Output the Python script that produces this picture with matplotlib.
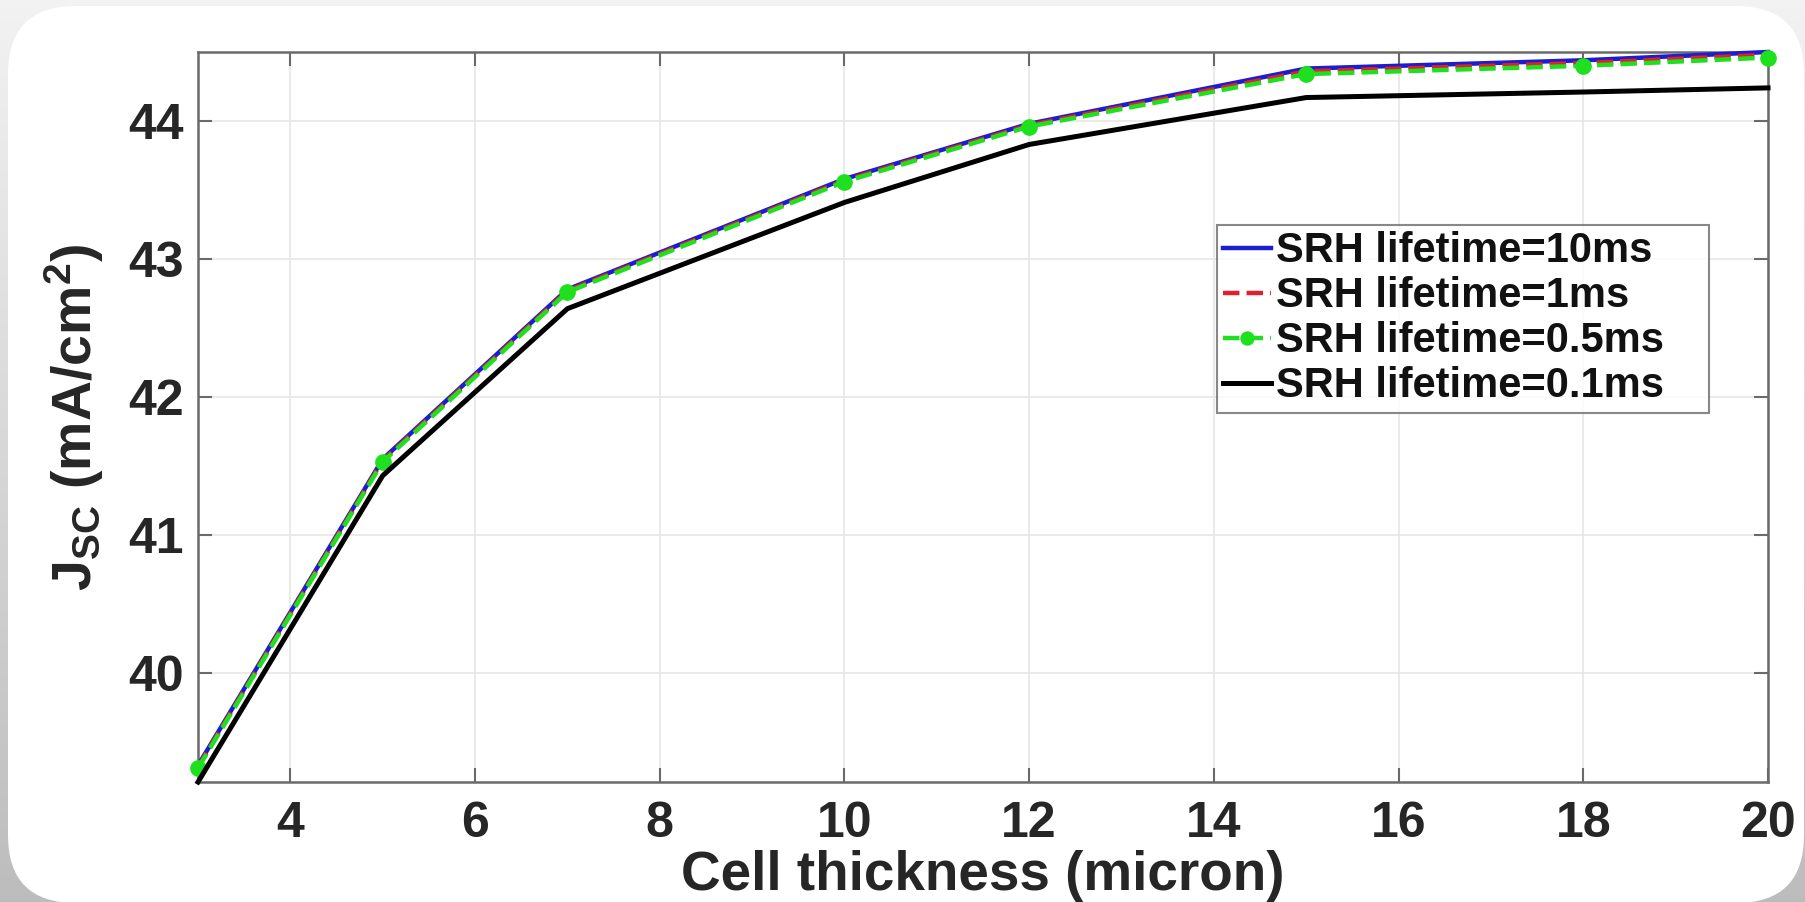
import matplotlib
matplotlib.use("Agg")
import matplotlib.pyplot as plt
import numpy as np
from matplotlib.patches import FancyBboxPatch

# ---- data ----
thickness = [3, 5, 7, 10, 12, 15, 18, 20]
jsc_10ms = [39.33, 41.55, 42.78, 43.58, 43.98, 44.38, 44.44, 44.50]
jsc_1ms = [39.32, 41.54, 42.77, 43.57, 43.97, 44.36, 44.42, 44.48]
jsc_05ms = [39.31, 41.53, 42.76, 43.56, 43.96, 44.34, 44.40, 44.46]
jsc_01ms = [39.21, 41.43, 42.64, 43.41, 43.83, 44.17, 44.21, 44.24]
labels = ["SRH lifetime=10ms", "SRH lifetime=1ms",
          "SRH lifetime=0.5ms", "SRH lifetime=0.1ms"]
xticks = [4, 6, 8, 10, 12, 14, 16, 18, 20]
yticks = [40, 41, 42, 43, 44]

plt.rcParams['font.family'] = ['Liberation Sans', 'DejaVu Sans']
plt.rcParams['font.weight'] = 'bold'
plt.rcParams['mathtext.fontset'] = 'custom'
plt.rcParams['mathtext.rm'] = 'Liberation Sans:bold'
plt.rcParams['mathtext.it'] = 'Liberation Sans:bold'
plt.rcParams['mathtext.bf'] = 'Liberation Sans:bold'

W, H = 1806, 902
fig = plt.figure(figsize=(W / 100, H / 100), dpi=100)

# background: grey gradient + rounded white panel
bg = fig.add_axes([0, 0, 1, 1], zorder=-10)
grad = np.linspace(0, 1, 256).reshape(-1, 1)
top_c = np.array([0.95, 0.95, 0.95])
bot_c = np.array([0.74, 0.74, 0.74])
img = top_c[None, None, :] * (1 - grad[:, :, None]) + bot_c[None, None, :] * grad[:, :, None]
bg.imshow(img, extent=[0, W, H, 0], aspect='auto')
bg.set_xlim(0, W)
bg.set_ylim(H, 0)
panel = FancyBboxPatch((8, 6), W - 8 - 2, H - 6 + 1,
                       boxstyle="round,pad=0,rounding_size=68",
                       facecolor='white', edgecolor='none')
bg.add_patch(panel)
bg.axis('off')

ax = fig.add_axes([198 / W, 1 - 782 / H, (1768 - 198) / W, (782 - 52) / H])
ax.set_facecolor('white')

lw = 3.2
ax.plot(thickness, jsc_10ms, color='#1c1cd0', lw=lw, ls='-', label=labels[0],
        clip_on=False, zorder=3)
ax.plot(thickness, jsc_1ms, color='#e0202a', lw=lw, ls='--', label=labels[1],
        clip_on=False, zorder=4)
ax.plot(thickness, jsc_05ms, color='#1ee01e', lw=lw, ls='--', marker='o',
        markersize=11, markerfacecolor='#1ee01e', markeredgecolor='#1ee01e',
        label=labels[2], clip_on=False, zorder=5)
ax.plot(thickness, jsc_01ms, color='black', lw=3.6, ls='-', label=labels[3],
        clip_on=False, zorder=6)

allv = jsc_10ms + jsc_1ms + jsc_05ms + jsc_01ms
ax.set_xlim(min(thickness), max(thickness))
ax.set_ylim(min(allv), max(allv))
ax.set_xticks(xticks)
ax.set_yticks(yticks)

ax.grid(True, color='#e6e6e6', lw=1.2)
ax.set_axisbelow(True)
for s in ax.spines.values():
    s.set_color('#6a6a6a')
    s.set_linewidth(1.8)
ax.tick_params(direction='in', length=10, width=1.5, color='#6a6a6a',
               top=True, right=True, labelsize=36, labelcolor='#262626')
ax.tick_params(axis='x', pad=14)
ax.tick_params(axis='y', pad=10)

ax.set_xlabel('Cell thickness (micron)', fontsize=39.5, fontweight='bold',
              color='#262626', labelpad=2)
ax.set_ylabel(r'J$_{\mathrm{SC}}$ (mA/cm$^{\mathrm{2}}$)', fontsize=40,
              fontweight='bold', color='#262626', labelpad=16)

x0 = (1217 - 198) / 1570
wl = (1709 - 1217) / 1570
ytop = (782 - 225) / 730
leg = ax.legend(loc='upper left', bbox_to_anchor=(x0, ytop - 0.26, wl, 0.26),
                mode='expand', borderaxespad=0, fontsize=30, frameon=True,
                fancybox=False, handlelength=1.15, handletextpad=0.12,
                labelspacing=0.12, borderpad=0.15, markerscale=0.85)
leg.get_frame().set_edgecolor('#6a6a6a')
leg.get_frame().set_linewidth(1.5)
for t in leg.get_texts():
    t.set_color('#111111')

fig.savefig('out.png', dpi=100)
